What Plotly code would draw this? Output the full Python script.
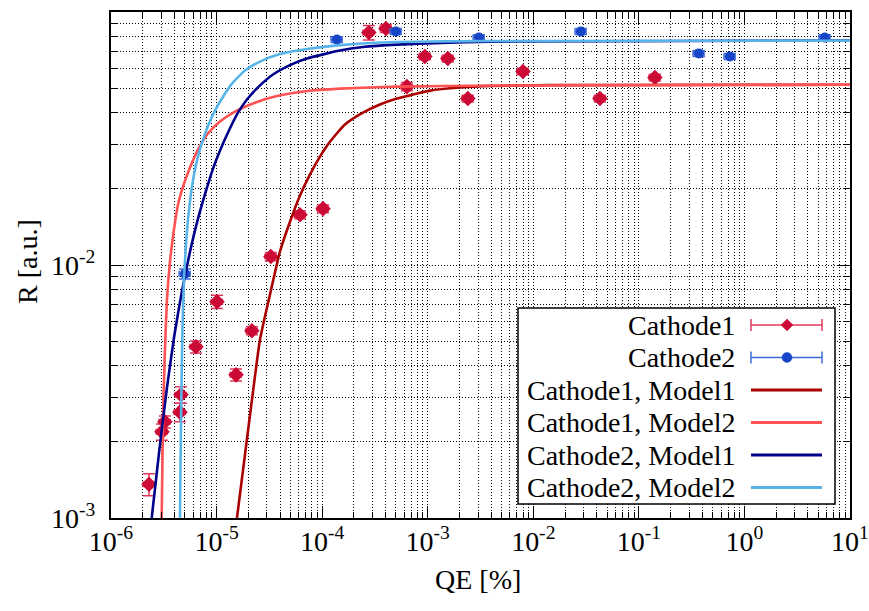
import plotly.graph_objects as go

FONT = "Liberation Serif"

# ---- measured points: reflectance R vs quantum efficiency QE ----
c1_qe = [2.29e-6, 3.24e-6, 3.04e-6, 4.50e-6, 4.60e-6, 6.38e-6, 1.01e-5, 1.53e-5,
         2.16e-5, 3.27e-5, 6.17e-5, 1.02e-4, 2.77e-4, 4.02e-4, 6.35e-4, 9.40e-4,
         1.55e-3, 2.40e-3, 7.98e-3, 4.28e-2, 1.42e-1]
c1_r = [1.36e-3, 2.40e-3, 2.19e-3, 2.62e-3, 3.07e-3, 4.75e-3, 7.16e-3, 3.68e-3,
        5.50e-3, 1.08e-2, 1.58e-2, 1.67e-2, 8.30e-2, 8.61e-2, 5.07e-2, 6.67e-2,
        6.55e-2, 4.55e-2, 5.82e-2, 4.55e-2, 5.51e-2]
c1_r_err = [1.36e-4, 1.3e-4, 1.6e-4, 2.2e-4, 2.3e-4, 2.6e-4, 4.3e-4, 2.0e-4,
            2.0e-4, 4.0e-4, 5.8e-4, 6.2e-4, 5.5e-3, 3.2e-3, 1.9e-3, 2.0e-3,
            2.0e-3, 1.4e-3, 1.7e-3, 1.4e-3, 1.7e-3]

c2_qe = [5.02e-6, 1.38e-4, 5.00e-4, 3.06e-3, 2.82e-2, 3.70e-1, 7.28e-1, 5.77]
c2_r = [9.23e-3, 7.78e-2, 8.37e-2, 7.92e-2, 8.37e-2, 6.86e-2, 6.67e-2, 7.92e-2]
c2_r_err = [4.2e-4, 2.1e-3, 2.3e-3, 2.1e-3, 2.3e-3, 1.9e-3, 1.8e-3, 2.1e-3]

qe_err_percent = 12

# ---- model curves ----
c1m1_qe = [1.56e-5, 1.857e-5, 2.212e-5, 2.576e-5, 3.20e-5, 3.98e-5, 4.96e-5, 6.16e-5,
           7.66e-5, 9.53e-5, 1.185e-4, 1.644e-4, 2.434e-4, 3.53e-4, 5.11e-4, 1.05e-3,
           2.02e-3, 3.88e-3, 1.44e-2, 10.0]
c1m1_r = [1.0e-3, 1.776e-3, 3.15e-3, 5.06e-3, 7.62e-3, 1.128e-2, 1.483e-2, 1.879e-2,
          2.275e-2, 2.68e-2, 3.07e-2, 3.59e-2, 4.00e-2, 4.31e-2, 4.55e-2, 4.89e-2,
          5.03e-2, 5.10e-2, 5.14e-2, 5.16e-2]

c1m2_qe = [3.02e-6, 3.073e-6, 3.14e-6, 3.245e-6, 3.39e-6, 3.62e-6, 3.91e-6, 4.31e-6,
           4.81e-6, 5.60e-6, 6.67e-6, 8.29e-6, 1.076e-5, 1.494e-5, 2.31e-5, 3.57e-5,
           7.18e-5, 1.47e-4, 5.11e-4, 3.88e-3, 10.0]
c1m2_r = [1.0e-3, 1.696e-3, 2.93e-3, 4.62e-3, 7.29e-3, 1.03e-2, 1.341e-2, 1.731e-2,
          2.04e-2, 2.43e-2, 2.86e-2, 3.31e-2, 3.69e-2, 4.04e-2, 4.38e-2, 4.63e-2,
          4.87e-2, 4.98e-2, 5.07e-2, 5.12e-2, 5.16e-2]

c2m1_qe = [2.43e-6, 2.85e-6, 3.37e-6, 3.95e-6, 4.67e-6, 5.60e-6, 6.67e-6, 8.0e-6,
           9.24e-6, 1.076e-5, 1.31e-5, 1.595e-5, 1.94e-5, 2.40e-5, 3.42e-5, 4.96e-5,
           7.18e-5, 1.47e-4, 2.43e-4, 5.11e-4, 3.88e-3, 10.0]
c2m1_r = [1.0e-3, 1.808e-3, 3.21e-3, 5.16e-3, 7.77e-3, 1.128e-2, 1.524e-2, 1.985e-2,
          2.40e-2, 2.83e-2, 3.40e-2, 4.00e-2, 4.51e-2, 4.98e-2, 5.66e-2, 6.17e-2,
          6.55e-2, 7.04e-2, 7.27e-2, 7.43e-2, 7.64e-2, 7.71e-2]

c2m2_qe = [4.50e-6, 4.57e-6, 4.65e-6, 4.75e-6, 4.91e-6, 5.13e-6, 5.42e-6, 5.85e-6,
           6.38e-6, 7.12e-6, 8.11e-6, 9.45e-6, 1.125e-5, 1.399e-5, 1.857e-5, 2.576e-5,
           3.98e-5, 7.18e-5, 1.47e-4, 5.11e-4, 3.88e-3, 10.0]
c2m2_r = [1.0e-3, 1.858e-3, 3.21e-3, 5.54e-3, 8.74e-3, 1.202e-2, 1.580e-2, 2.04e-2,
          2.49e-2, 2.96e-2, 3.46e-2, 4.00e-2, 4.55e-2, 5.21e-2, 5.87e-2, 6.37e-2,
          6.82e-2, 7.14e-2, 7.40e-2, 7.61e-2, 7.68e-2, 7.71e-2]

# ---- axis ticks ----
x_decades = [-6, -5, -4, -3, -2, -1, 0, 1]
y_decades = [-3, -2, -1]

legend_labels = ["Cathode1", "Cathode2", "Cathode1, Model1",
                 "Cathode1, Model2", "Cathode2, Model1", "Cathode2, Model2"]

C1_COL, C1_ERR = "#cc0a36", "#e03a5a"
C2_COL, C2_ERR = "#1745c8", "#3d6cd8"
M_COLS = ["#aa0000", "#ff5252", "#00008b", "#58b4e8"]

fig = go.Figure()

fig.add_trace(go.Scatter(
    x=c1_qe, y=c1_r, mode="markers", name=legend_labels[0],
    marker=dict(symbol="diamond", size=12, color=C1_COL),
    error_y=dict(type="data", array=c1_r_err, color=C1_ERR, thickness=1.5, width=6),
    error_x=dict(type="percent", value=qe_err_percent, color=C1_ERR, thickness=1.5, width=3),
))
fig.add_trace(go.Scatter(
    x=c2_qe, y=c2_r, mode="markers", name=legend_labels[1],
    marker=dict(symbol="circle", size=10, color=C2_COL),
    error_y=dict(type="data", array=c2_r_err, color=C2_ERR, thickness=1.5, width=6),
    error_x=dict(type="percent", value=qe_err_percent, color=C2_ERR, thickness=1.5, width=3),
))

for (xs, ys), col, name in zip(
        [(c1m1_qe, c1m1_r), (c1m2_qe, c1m2_r), (c2m1_qe, c2m1_r), (c2m2_qe, c2m2_r)],
        M_COLS, legend_labels[2:]):
    fig.add_trace(go.Scatter(
        x=xs, y=ys, mode="lines", name=name,
        line=dict(color=col, width=2.6, shape="spline", smoothing=0.5),
    ))


def sup_label(e):
    return f"10<sup>{e}</sup>"


def minor_vals(decades):
    vals = []
    for e in decades[:-1]:
        vals += [k * 10.0 ** e for k in range(2, 10)]
    return vals


grid = dict(showgrid=True, gridcolor="black", gridwidth=1, griddash="1px,2px")
common = dict(
    type="log", ticks="inside", ticklen=12, tickwidth=1.2, tickcolor="black",
    showline=True, linewidth=2, linecolor="black", mirror="allticks",
    zeroline=False, automargin=False,
    tickfont=dict(family=FONT, size=28, color="black"),
    **grid,
)

fig.update_xaxes(
    range=[-6, 1], tickmode="array",
    tickvals=[10.0 ** e for e in x_decades],
    ticktext=[sup_label(e) for e in x_decades],
    ticklabelstandoff=-3,
    minor=dict(tickmode="array", tickvals=minor_vals(x_decades), ticks="inside",
               ticklen=6, tickcolor="black", **grid),
    **common,
)
fig.update_yaxes(
    range=[-3, -1], tickmode="array",
    tickvals=[10.0 ** e for e in y_decades],
    ticktext=[sup_label(e) for e in y_decades],
    ticklabelstandoff=8,
    minor=dict(tickmode="array", tickvals=minor_vals(y_decades), ticks="inside",
               ticklen=6, tickcolor="black", **grid),
    **common,
)

# ---- key box (samples to the right of the labels) ----
L, R, T, B = 111, 850, 12, 518
W, H = R - L, B - T


def px(v):
    return (v - L) / W


def py(v):
    return (B - v) / H


shapes = [dict(type="rect", xref="paper", yref="paper",
               x0=px(518), x1=px(835), y0=py(504), y1=py(308),
               line=dict(color="black", width=1.5), fillcolor="white", layer="above")]
annotations = []
rows = [325, 357.5, 390, 422.5, 455, 487.5]
sx0, sx1 = px(751), px(822)
for i, (label, ry) in enumerate(zip(legend_labels, rows)):
    annotations.append(dict(
        text=label, x=px(737), y=py(ry), xref="paper", yref="paper",
        xanchor="right", yanchor="middle", showarrow=False,
        font=dict(family=FONT, size=28, color="black")))
    if i < 2:
        col, ecol = (C1_COL, C1_ERR) if i == 0 else (C2_COL, C2_ERR)
        shapes.append(dict(type="line", xref="paper", yref="paper", x0=sx0, x1=sx1,
                           y0=py(ry), y1=py(ry), line=dict(color=ecol, width=1.5),
                           layer="above"))
        for cx in (sx0, sx1):
            shapes.append(dict(type="line", xref="paper", yref="paper", x0=cx, x1=cx,
                               y0=py(ry - 6), y1=py(ry + 6),
                               line=dict(color=ecol, width=1.5), layer="above"))
        if i == 0:
            path = (f"M {px(787)} {py(ry - 6)} L {px(793)} {py(ry)} "
                    f"L {px(787)} {py(ry + 6)} L {px(781)} {py(ry)} Z")
            shapes.append(dict(type="path", xref="paper", yref="paper", path=path,
                               fillcolor=col, line=dict(color=col, width=0.5),
                               layer="above"))
        else:
            shapes.append(dict(type="circle", xref="paper", yref="paper",
                               x0=px(782), x1=px(792), y0=py(ry + 5), y1=py(ry - 5),
                               fillcolor=col, line=dict(color=col, width=0.5),
                               layer="above"))
    else:
        shapes.append(dict(type="line", xref="paper", yref="paper", x0=sx0, x1=sx1,
                           y0=py(ry), y1=py(ry),
                           line=dict(color=M_COLS[i - 2], width=3), layer="above"))

# axis titles
annotations.append(dict(text="R [a.u.]", x=px(27), y=py(262), xref="paper", yref="paper",
                        textangle=-90, showarrow=False, xanchor="center", yanchor="middle",
                        font=dict(family=FONT, size=28, color="black")))
annotations.append(dict(text="QE [%]", x=px(478), y=py(579), xref="paper", yref="paper",
                        showarrow=False, xanchor="center", yanchor="middle",
                        font=dict(family=FONT, size=28, color="black")))

fig.update_layout(
    width=869, height=611,
    margin=dict(l=L, r=869 - R, t=T, b=611 - B),
    paper_bgcolor="white", plot_bgcolor="white",
    showlegend=False,
    font=dict(family=FONT, size=28, color="black"),
    shapes=shapes, annotations=annotations,
)

fig.write_html("out.html")
